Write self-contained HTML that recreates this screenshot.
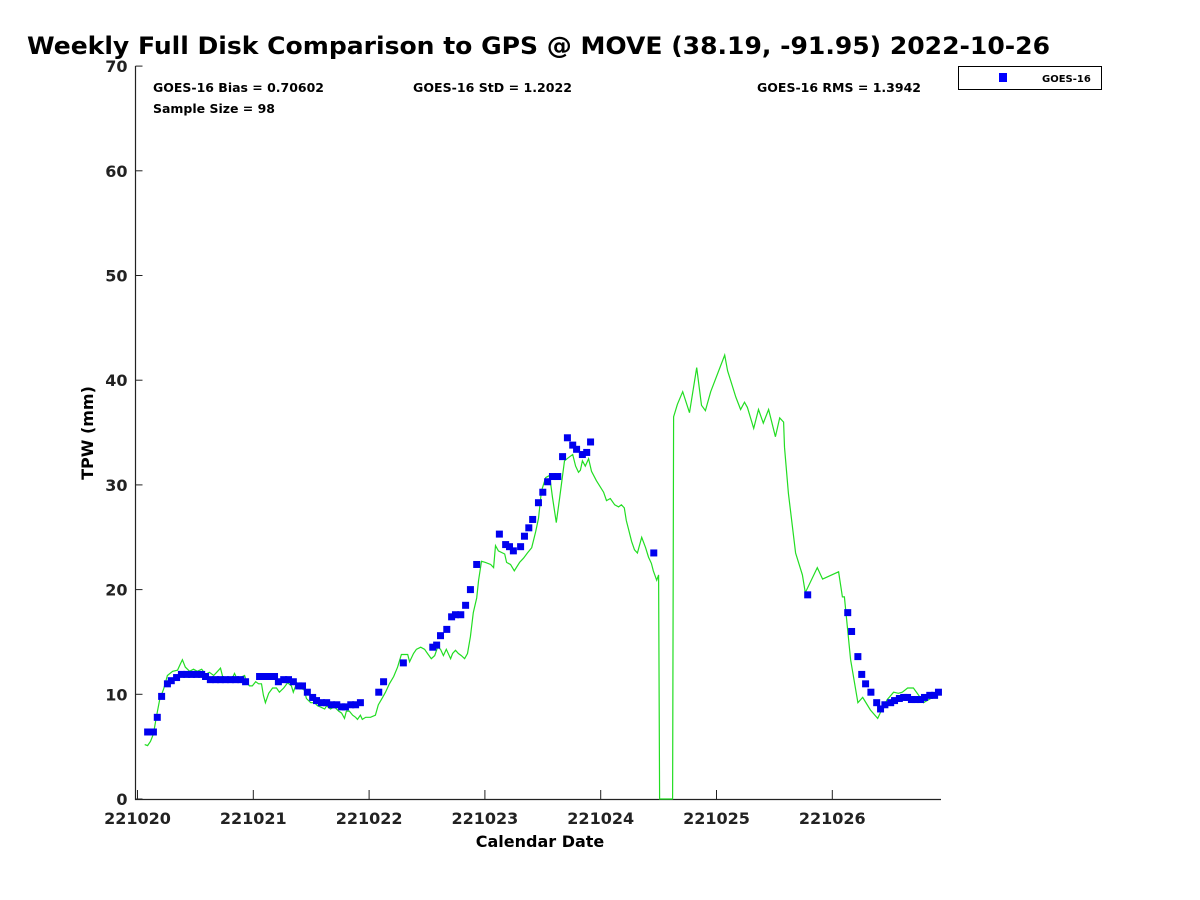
<!DOCTYPE html>
<html><head><meta charset="utf-8"><style>
html,body{margin:0;padding:0;background:#fff}
svg{display:block;font-family:"DejaVu Sans","Liberation Sans",sans-serif}
</style></head><body>
<svg id="chart" width="1200" height="900" viewBox="0 0 1200 900">
<text x="27" y="54" font-size="24" font-weight="bold" fill="#000" textLength="1023" lengthAdjust="spacingAndGlyphs">Weekly Full Disk Comparison to GPS @ MOVE (38.19, -91.95) 2022-10-26</text>
<g id="axes"></g>
<g id="gps"></g>
<g id="goes"></g>
<text x="153" y="92" font-size="12" font-weight="bold" textLength="171" lengthAdjust="spacingAndGlyphs">GOES-16 Bias = 0.70602</text>
<text x="413" y="92" font-size="12" font-weight="bold" textLength="159" lengthAdjust="spacingAndGlyphs">GOES-16 StD = 1.2022</text>
<text x="757" y="92" font-size="12" font-weight="bold" textLength="164" lengthAdjust="spacingAndGlyphs">GOES-16 RMS = 1.3942</text>
<text x="153" y="113" font-size="12" font-weight="bold" textLength="122" lengthAdjust="spacingAndGlyphs">Sample Size = 98</text>
<g>
<rect x="958.5" y="66.5" width="143" height="23" fill="#fff" stroke="#000" stroke-width="1"/>
<rect x="999" y="73" width="8" height="9" fill="#0000ff"/>
<text x="1042" y="82" font-size="10" font-weight="bold">GOES-16</text>
</g>
<text x="540" y="847" font-size="16" font-weight="bold" text-anchor="middle">Calendar Date</text>
<text transform="translate(93,433) rotate(-90)" font-size="16" font-weight="bold" text-anchor="middle">TPW (mm)</text>
</svg>
<script>
const xTickLabels=["221020","221021","221022","221023","221024","221025","221026"];
const yTicks=[0,10,20,30,40,50,60,70];
const goesHours=[2.1,3.3,4.1,5.0,6.2,7.0,8.1,9.1,10.2,11.2,12.2,13.3,14.1,15.1,16.2,17.2,18.2,19.3,20.3,21.4,22.4,25.3,26.3,27.4,28.4,29.2,30.3,31.3,32.3,33.4,34.2,35.2,36.3,37.1,38.1,39.2,40.2,41.3,42.3,43.1,44.2,45.2,46.2,50.0,51.0,55.1,61.2,62.0,62.8,64.1,65.1,65.9,67.0,68.0,69.0,70.3,75.0,76.3,77.1,77.9,79.4,80.2,81.1,81.9,83.1,84.0,85.0,86.0,87.1,88.1,89.1,90.2,91.0,92.2,93.1,93.9,107.0,138.9,147.2,148.0,149.3,150.1,150.9,152.0,153.2,154.0,154.9,156.1,156.9,157.9,158.8,159.6,160.4,161.2,162.3,163.1,164.2,165.2,166.0];
const goesTPW=[6.4,6.4,7.8,9.8,11.0,11.3,11.6,11.9,11.9,11.9,11.9,11.9,11.7,11.4,11.4,11.4,11.4,11.4,11.4,11.4,11.2,11.7,11.7,11.7,11.7,11.2,11.4,11.4,11.2,10.8,10.8,10.2,9.7,9.4,9.2,9.2,9.0,9.0,8.8,8.8,9.0,9.0,9.2,10.2,11.2,13.0,14.5,14.7,15.6,16.2,17.4,17.6,17.6,18.5,20.0,22.4,25.3,24.3,24.1,23.7,24.1,25.1,25.9,26.7,28.3,29.3,30.3,30.8,30.8,32.7,34.5,33.8,33.4,32.9,33.1,34.1,23.5,19.5,17.8,16.0,13.6,11.9,11.0,10.2,9.2,8.6,9.0,9.2,9.4,9.6,9.7,9.7,9.5,9.5,9.5,9.7,9.9,9.9,10.2];
const gpsHours=[1.5,2.1,2.7,3.3,3.9,4.6,5.4,6.2,7.3,8.3,8.9,9.3,9.9,10.8,11.6,12.4,13.3,14.1,14.9,15.8,16.6,17.2,17.8,18.7,19.3,19.7,20.1,20.7,21.3,22.2,22.6,23.2,23.8,24.5,25.1,25.7,26.1,26.5,27.2,28.0,28.8,29.4,30.3,31.1,31.9,32.3,33.0,33.8,34.6,35.0,35.9,36.7,37.3,37.9,38.8,39.2,40.0,40.8,41.7,42.3,42.9,43.3,43.9,44.6,45.2,45.6,46.2,46.6,47.3,48.3,49.3,49.9,50.8,51.4,52.2,53.1,53.9,54.7,55.3,56.0,56.4,57.2,57.8,58.7,59.5,60.1,60.9,61.6,62.2,62.8,63.4,64.0,64.9,65.3,65.9,66.5,67.1,67.8,68.4,69.0,69.6,70.3,70.7,71.3,72.1,73.2,73.8,74.2,74.8,76.1,76.5,77.3,78.1,79.2,80.0,80.8,81.7,82.5,83.1,83.7,84.6,85.4,86.0,86.8,87.5,88.5,89.3,90.2,90.8,91.4,91.8,92.2,92.8,93.5,94.1,95.1,96.6,97.2,98.0,98.9,99.7,100.3,100.9,101.3,101.8,102.4,103.0,103.6,104.5,105.3,105.9,106.5,106.9,107.6,108.0,108.2,110.9,111.1,111.9,113.0,114.4,115.9,116.9,117.7,118.8,121.7,122.3,124.0,125.0,125.8,126.4,127.7,128.7,129.7,130.8,132.2,133.1,133.9,134.1,134.9,136.4,137.8,138.4,140.9,142.0,145.3,146.1,146.5,147.8,149.3,150.3,151.9,153.4,154.0,155.4,156.7,157.7,158.5,159.6,160.8,161.9,162.9,164.4,166.0,166.6];
const gpsTPW=[5.2,5.1,5.5,6.2,7.8,9.5,10.5,11.8,12.2,12.3,12.9,13.3,12.6,12.2,12.4,12.2,12.4,11.9,12.1,11.8,12.2,12.5,11.4,11.4,11.4,11.6,12.0,11.4,11.6,11.8,11.2,10.8,10.8,11.2,11.0,11.0,9.9,9.2,10.1,10.6,10.6,10.2,10.6,11.1,10.8,10.2,11.1,10.6,10.4,9.6,9.2,9.2,8.9,8.8,8.6,8.9,8.6,8.8,8.4,8.2,7.7,8.4,8.4,8.0,7.8,7.6,8.0,7.6,7.8,7.8,8.0,9.0,9.7,10.2,11.0,11.7,12.6,13.8,13.8,13.8,13.1,13.9,14.3,14.5,14.3,13.9,13.4,13.7,14.5,14.3,13.7,14.3,13.4,13.9,14.2,13.9,13.7,13.4,13.9,15.5,17.8,19.2,20.9,22.7,22.6,22.4,22.1,24.2,23.7,23.4,22.6,22.4,21.8,22.6,23.0,23.5,24.0,25.5,26.8,29.4,30.7,30.9,28.8,26.4,28.8,32.3,32.6,32.9,31.8,31.2,31.4,32.3,31.8,32.5,31.3,30.4,29.3,28.5,28.7,28.1,27.9,28.1,27.8,26.6,25.7,24.6,23.8,23.5,25.0,24.0,23.1,22.5,21.8,20.9,21.4,0,0,36.5,37.7,38.9,36.9,41.2,37.6,37.1,38.9,42.4,40.9,38.4,37.2,37.9,37.4,35.4,37.2,35.9,37.2,34.6,36.4,36.0,33.6,29.2,23.5,21.4,19.7,22.1,21.0,21.7,19.3,19.3,13.3,9.2,9.7,8.5,7.7,8.3,9.5,10.2,10.1,10.2,10.6,10.6,9.9,9.2,9.6,10.1,10.2];

const NS="http://www.w3.org/2000/svg";
const X0=137.5,PXD=115.8,YB=799,PXV=10.47,LEFT=135.5,RIGHT=941;
function xs(h){return X0+h/24*PXD;}
function ys(v){return YB-v*PXV;}
function mk(tag,attrs,parent){const e=document.createElementNS(NS,tag);for(const k in attrs)e.setAttribute(k,attrs[k]);parent.appendChild(e);return e;}
const axes=document.getElementById('axes');
let a=mk('path',{d:`M${LEFT},66 V${YB+0.5} H${RIGHT}`,fill:'none',stroke:'#222','stroke-width':1.2},axes);


yTicks.forEach(v=>{
  const t=mk('line',{x1:LEFT,x2:LEFT+7,y1:ys(v),y2:ys(v),stroke:'#222'},axes);
  
  
  const l=mk('text',{x:LEFT-8,y:ys(v)+6,'font-size':16,'font-weight':'bold','text-anchor':'end',fill:'#222'},axes);
  l.textContent=v;
  
  
});
xTickLabels.forEach((s,i)=>{
  const x=xs(i*24);
  const t=mk('line',{x1:x,x2:x,y1:YB,y2:YB-9,stroke:'#222'},axes);
  
  
  const l=mk('text',{x:x,y:YB+25,'font-size':16,'font-weight':'bold','text-anchor':'middle',fill:'#222'},axes);
  l.textContent=s;
  
  
});
const gps=document.getElementById('gps');
let d=gpsHours.map((h,i)=>(i?'L':'M')+xs(h).toFixed(1)+','+ys(gpsTPW[i]).toFixed(1)).join(' ');
const line=mk('path',{d:d,fill:'none',stroke:'#22dd22','stroke-width':1.2},gps);


const goes=document.getElementById('goes');
goesHours.forEach((h,i)=>{
  const r=mk('rect',{x:xs(h)-3.5,y:ys(goesTPW[i])-3.5,width:7,height:7,fill:'#0000ee'},goes);
  
  
});
</script>
</body></html>
